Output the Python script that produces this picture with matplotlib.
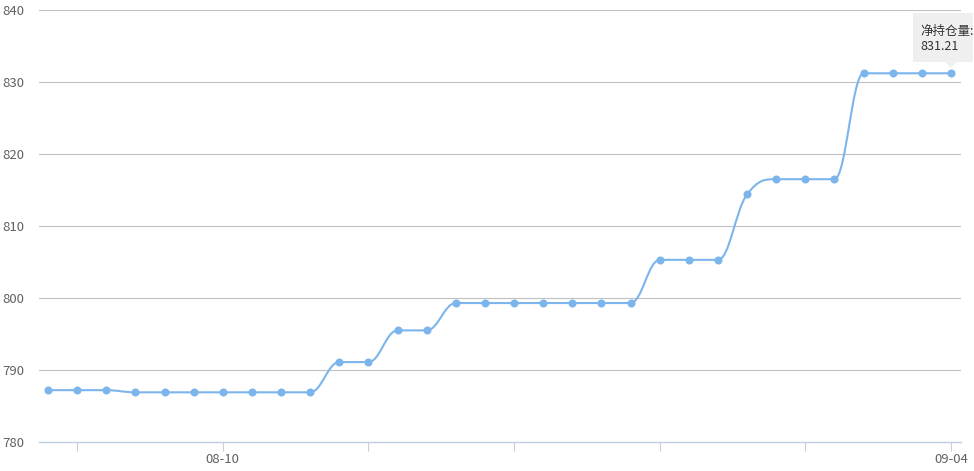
import matplotlib
matplotlib.use("Agg")
import matplotlib.pyplot as plt
from matplotlib.path import Path
from matplotlib.patches import PathPatch, Rectangle, Polygon
import numpy as np

plt.rcParams['font.family'] = ['Noto Sans CJK SC', 'DejaVu Sans']

dates = ["08-04", "08-05", "08-06", "08-07", "08-08", "08-09", "08-10", "08-11",
         "08-12", "08-13", "08-14", "08-15", "08-16", "08-17", "08-18", "08-19",
         "08-20", "08-21", "08-22", "08-23", "08-24", "08-25", "08-26", "08-27",
         "08-28", "08-29", "08-30", "08-31", "09-01", "09-02", "09-03", "09-04"]
net_position = [787.2, 787.2, 787.2, 786.9, 786.9, 786.9, 786.9, 786.9,
                786.9, 786.9, 791.1, 791.1, 795.5, 795.5, 799.3, 799.3,
                799.3, 799.3, 799.3, 799.3, 799.3, 805.3, 805.3, 805.3,
                814.4, 816.5, 816.5, 816.5, 831.21, 831.21, 831.21, 831.21]
tick_idx = [1, 6, 11, 16, 21, 26, 31]
shown_labels = ["08-10", "09-04"]
y_ticks = [780, 790, 800, 810, 820, 830, 840]
series_name = "净持仓量"

LINE = '#7cb5ec'
W, H = 974, 471
fig = plt.figure(figsize=(W / 100, H / 100), dpi=100)
ax = fig.add_axes([39 / W, (H - 442) / H, (961 - 39) / W, (442 - 10) / H])

xs = np.arange(len(net_position), dtype=float)
ys = np.array(net_position, dtype=float)

# Highcharts-like spline control points
smoothing = 1.5
denom = smoothing + 1
n = len(xs)
left = [None] * n
right = [None] * n
for i in range(1, n - 1):
    px, py = xs[i], ys[i]
    lx, ly = xs[i - 1], ys[i - 1]
    nx, ny = xs[i + 1], ys[i + 1]
    lcx = (smoothing * px + lx) / denom
    lcy = (smoothing * py + ly) / denom
    rcx = (smoothing * px + nx) / denom
    rcy = (smoothing * py + ny) / denom
    corr = 0.0
    if rcx != lcx:
        corr = ((rcy - lcy) * (rcx - px)) / (rcx - lcx) + py - rcy
    lcy += corr
    rcy += corr
    if lcy > ly and lcy > py:
        lcy = max(ly, py); rcy = 2 * py - lcy
    elif lcy < ly and lcy < py:
        lcy = min(ly, py); rcy = 2 * py - lcy
    if rcy > ny and rcy > py:
        rcy = max(ny, py); lcy = 2 * py - rcy
    elif rcy < ny and rcy < py:
        rcy = min(ny, py); lcy = 2 * py - rcy
    left[i] = (lcx, lcy)
    right[i] = (rcx, rcy)

verts = [(xs[0], ys[0])]
codes = [Path.MOVETO]
for i in range(1, n):
    c1 = right[i - 1] if right[i - 1] is not None else (xs[i - 1], ys[i - 1])
    c2 = left[i] if left[i] is not None else (xs[i], ys[i])
    verts += [c1, c2, (xs[i], ys[i])]
    codes += [Path.CURVE4] * 3
ax.add_patch(PathPatch(Path(verts, codes), fc='none', ec=LINE, lw=1.5,
                       zorder=3, capstyle='round', joinstyle='round'))
ax.plot(xs, ys, 'o', color=LINE, ms=5.8, mec='none', zorder=4)

ax.set_xlim(-0.309, 31.343)
ax.set_ylim(780, 840)

for s in ['top', 'right', 'left']:
    ax.spines[s].set_visible(False)
ax.spines['bottom'].set_color('#c0d0e0')
ax.spines['bottom'].set_linewidth(1)
ax.spines['bottom'].set_zorder(2)

ax.set_yticks(y_ticks)
ax.set_yticklabels([str(v) for v in y_ticks])
for v in y_ticks[1:]:
    ax.axhline(v, color='#c0c0c0', lw=0.8, zorder=1)
ax.tick_params(axis='y', length=0, pad=10.5, labelsize=9.5, labelcolor='#606060')

ax.set_xticks(tick_idx)
ax.set_xticklabels([dates[i] if dates[i] in shown_labels else '' for i in tick_idx])
ax.tick_params(axis='x', length=6.5, width=0.8, color='#c0d0e0', pad=1.5,
               labelsize=9.5, labelcolor='#606060')

# tooltip anchored to last point
fig.canvas.draw()
px, py = ax.transData.transform((xs[-1], ys[-1]))
box_left, box_right = px - 38, px + 22
box_bottom, box_top = py + 11, py + 60
fig.patches.append(Rectangle((box_left, box_bottom), box_right - box_left,
                             box_top - box_bottom, transform=None,
                             fc='#efefef', ec='none', zorder=10))
fig.patches.append(Polygon([(px - 6, box_bottom), (px + 6, box_bottom), (px, box_bottom - 5)],
                           closed=True, transform=None, fc='#efefef', ec='none', zorder=10))
fig.text(px - 31, py + 42, series_name + ":", transform=None, fontsize=9,
         color='#333333', ha='left', va='center', zorder=11)
fig.text(px - 31, py + 27, f"{ys[-1]:.2f}", transform=None, fontsize=9,
         color='#333333', ha='left', va='center', zorder=11)

fig.savefig('out.png', dpi=100)
